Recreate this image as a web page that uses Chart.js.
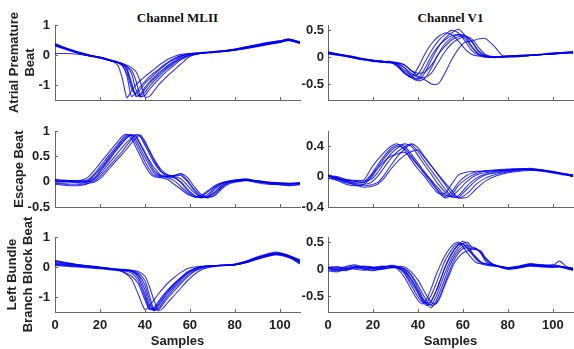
<!DOCTYPE html>
<html><head><meta charset="utf-8">
<script src="https://cdn.jsdelivr.net/npm/chart.js@4.4.1/dist/chart.umd.min.js"></script>
<style>
body{margin:0;width:574px;height:349px;background:#fff;position:relative;overflow:hidden}
canvas{position:absolute}
.t{position:absolute;top:18px;font:bold 13px "Liberation Serif","Times New Roman",serif;color:#111;transform:translate(-50%,-50%);white-space:nowrap}
</style></head><body>
<div class="t" style="left:177.5px">Channel MLII</div>
<div class="t" style="left:450.5px">Channel V1</div>
<canvas id="c0"></canvas><canvas id="c1"></canvas>
<canvas id="c2"></canvas><canvas id="c3"></canvas>
<canvas id="c4"></canvas><canvas id="c5"></canvas>
<script>
// ---------- data ----------
const X_TICKS = [0, 20, 40, 60, 80, 100];
const X_MAX = 109;

const ROW_TITLES = [['Atrial Premature', 'Beat'], 'Escape Beat', ['Left Bundle', 'Branch Block Beat']];
const COL_X_TITLE = 'Samples';

// Atrial premature beat, MLII
const APB_ML_X = [0,5,10,15,20,25,28,30,32,34,36,38,40,42,44,46,48,50,53,56,60,65,70,75,80,85,90,95,100,104,109];
const APB_ML_TICKS = [-1, 0, 1];
const APB_ML = [
 [0.38,0.22,0.08,-0.02,-0.08,-0.18,-0.35,-0.8,-1.42,-1.2,-1.0,-0.85,-0.72,-0.6,-0.48,-0.36,-0.25,-0.15,-0.05,0.02,0.05,0.07,0.1,0.12,0.16,0.22,0.3,0.36,0.42,0.5,0.42],
 [0.33,0.2,0.1,0.0,-0.1,-0.2,-0.27,-0.35,-0.7,-1.38,-1.25,-1.05,-0.88,-0.72,-0.6,-0.48,-0.36,-0.25,-0.12,-0.02,0.04,0.07,0.09,0.13,0.17,0.25,0.33,0.4,0.46,0.52,0.4],
 [0.3,0.18,0.07,-0.03,-0.1,-0.2,-0.25,-0.3,-0.45,-0.9,-1.38,-1.3,-1.08,-0.9,-0.75,-0.6,-0.48,-0.36,-0.2,-0.06,0.03,0.06,0.1,0.13,0.18,0.26,0.32,0.39,0.45,0.5,0.38],
 [0.05,0.05,0.03,-0.02,-0.08,-0.18,-0.24,-0.32,-0.5,-1.0,-1.35,-1.35,-1.15,-0.95,-0.8,-0.66,-0.52,-0.4,-0.24,-0.1,0.0,0.05,0.08,0.12,0.16,0.23,0.3,0.37,0.43,0.49,0.39],
 [0.36,0.22,0.1,0.0,-0.07,-0.17,-0.23,-0.3,-0.4,-0.6,-1.15,-1.4,-1.25,-1.05,-0.88,-0.72,-0.58,-0.44,-0.28,-0.12,0.0,0.06,0.1,0.14,0.2,0.27,0.34,0.41,0.47,0.53,0.43],
 [0.34,0.21,0.09,-0.01,-0.09,-0.19,-0.25,-0.3,-0.38,-0.5,-0.85,-1.38,-1.35,-1.15,-0.98,-0.82,-0.66,-0.52,-0.34,-0.16,-0.02,0.05,0.09,0.12,0.17,0.22,0.28,0.35,0.42,0.48,0.4],
 [0.32,0.2,0.08,-0.02,-0.1,-0.2,-0.24,-0.28,-0.34,-0.42,-0.55,-0.9,-1.4,-1.38,-1.2,-1.0,-0.85,-0.7,-0.5,-0.3,-0.05,0.06,0.1,0.13,0.18,0.25,0.31,0.38,0.44,0.5,0.42],
 [0.37,0.23,0.11,0.01,-0.08,-0.19,-0.26,-0.36,-0.6,-1.1,-1.3,-1.15,-0.95,-0.8,-0.66,-0.52,-0.4,-0.28,-0.14,-0.03,0.04,0.08,0.11,0.15,0.19,0.27,0.35,0.42,0.47,0.53,0.44]
];

// Atrial premature beat, V1
const APB_V1_X = [0,5,10,15,20,25,28,31,34,37,40,43,46,49,52,55,58,61,64,67,70,74,78,84,90,96,102,109];
const APB_V1_TICKS = [-0.5, 0, 0.5];
const APB_V1 = [
 [0.07,0.04,0.0,-0.04,-0.06,-0.08,-0.1,-0.18,-0.3,-0.38,-0.2,0.05,0.25,0.38,0.45,0.42,0.3,0.15,0.05,0.02,0.0,0.0,0.01,0.02,0.03,0.05,0.07,0.08],
 [0.09,0.05,0.01,-0.03,-0.07,-0.09,-0.1,-0.14,-0.25,-0.33,-0.32,-0.1,0.12,0.3,0.42,0.5,0.45,0.3,0.12,0.04,0.01,0.0,0.02,0.03,0.04,0.06,0.08,0.1],
 [0.06,0.03,0.0,-0.05,-0.07,-0.1,-0.09,-0.12,-0.2,-0.35,-0.42,-0.3,-0.05,0.18,0.35,0.45,0.52,0.4,0.2,0.06,0.02,0.0,0.01,0.02,0.04,0.05,0.06,0.09],
 [0.1,0.05,0.02,-0.03,-0.06,-0.08,-0.08,-0.1,-0.15,-0.25,-0.3,-0.28,-0.15,0.05,0.2,0.32,0.38,0.4,0.3,0.12,0.03,0.0,0.0,0.01,0.03,0.05,0.07,0.08],
 [0.08,0.04,0.0,-0.04,-0.08,-0.1,-0.11,-0.15,-0.28,-0.38,-0.44,-0.4,-0.2,0.05,0.25,0.36,0.42,0.4,0.28,0.1,0.02,-0.01,0.0,0.02,0.03,0.06,0.08,0.1],
 [0.07,0.05,0.01,-0.03,-0.06,-0.08,-0.1,-0.11,-0.14,-0.25,-0.35,-0.38,-0.3,-0.1,0.1,0.25,0.34,0.38,0.34,0.18,0.05,0.01,0.01,0.02,0.04,0.05,0.07,0.09],
 [0.08,0.04,0.0,-0.04,-0.07,-0.09,-0.1,-0.12,-0.2,-0.3,-0.38,-0.42,-0.5,-0.5,-0.3,-0.05,0.15,0.28,0.3,0.34,0.35,0.2,0.02,0.01,0.03,0.05,0.07,0.08],
 [0.09,0.06,0.02,-0.02,-0.06,-0.08,-0.09,-0.16,-0.3,-0.36,-0.4,-0.22,0.02,0.2,0.32,0.4,0.42,0.35,0.18,0.05,0.01,0.0,0.01,0.03,0.04,0.05,0.07,0.1]
];

// Escape beat, MLII
const ESC_ML_X = [0,4,8,12,15,18,21,24,27,30,32,34,36,38,40,42,44,47,50,53,56,59,62,65,68,71,74,77,80,85,90,95,100,105,109];
const ESC_ML_TICKS = [-0.5, 0, 0.5, 1];
const ESC_ML = [
 [0.02,0.0,0.01,0.03,0.1,0.25,0.42,0.58,0.74,0.9,0.93,0.85,0.68,0.5,0.32,0.18,0.1,0.08,0.05,-0.05,-0.15,-0.25,-0.3,-0.27,-0.18,-0.08,-0.02,0.0,0.02,0.04,0.0,-0.03,-0.05,-0.03,-0.04],
 [0.05,0.03,0.02,0.01,0.05,0.18,0.35,0.52,0.68,0.85,0.93,0.9,0.76,0.58,0.4,0.24,0.13,0.1,0.08,0.02,-0.1,-0.22,-0.3,-0.3,-0.2,-0.1,-0.03,0.01,0.03,0.05,0.01,-0.02,-0.04,-0.05,-0.03],
 [-0.05,-0.07,-0.08,-0.07,-0.03,0.08,0.25,0.42,0.6,0.76,0.86,0.92,0.88,0.72,0.55,0.38,0.22,0.12,0.1,0.08,0.0,-0.15,-0.27,-0.32,-0.28,-0.15,-0.05,0.0,0.02,0.03,-0.02,-0.05,-0.06,-0.08,-0.06],
 [0.0,0.01,-0.01,0.0,0.02,0.1,0.28,0.45,0.62,0.78,0.88,0.93,0.9,0.75,0.58,0.42,0.28,0.13,0.1,0.1,0.06,-0.08,-0.22,-0.3,-0.3,-0.2,-0.08,-0.01,0.02,0.04,0.0,-0.02,-0.03,-0.04,-0.02],
 [0.03,0.02,0.0,-0.01,0.0,0.03,0.15,0.3,0.45,0.6,0.72,0.83,0.93,0.88,0.72,0.55,0.38,0.2,0.12,0.12,0.15,0.02,-0.15,-0.28,-0.32,-0.25,-0.12,-0.03,0.0,0.03,0.02,-0.01,-0.03,-0.05,-0.04],
 [-0.03,-0.05,-0.06,-0.05,-0.03,0.0,0.1,0.25,0.4,0.55,0.65,0.76,0.86,0.92,0.8,0.62,0.45,0.25,0.14,0.12,0.16,0.08,-0.1,-0.25,-0.3,-0.28,-0.15,-0.05,-0.01,0.02,0.0,-0.04,-0.06,-0.07,-0.05],
 [0.01,0.0,0.02,0.01,0.03,0.15,0.3,0.48,0.65,0.82,0.9,0.92,0.82,0.65,0.48,0.32,0.18,0.11,0.1,0.08,-0.02,-0.18,-0.28,-0.31,-0.25,-0.12,-0.04,0.0,0.03,0.05,0.01,-0.01,-0.02,-0.03,-0.02],
 [-0.02,-0.03,-0.02,-0.03,0.0,0.06,0.2,0.36,0.52,0.68,0.78,0.86,0.92,0.9,0.76,0.6,0.42,0.22,0.12,0.11,0.12,0.0,-0.18,-0.3,-0.3,-0.22,-0.1,-0.02,0.01,0.03,0.01,-0.02,-0.04,-0.04,-0.03]
];

// Escape beat, V1
const ESC_V1_X = [0,4,8,12,16,19,22,25,28,31,34,37,40,43,46,49,52,55,58,62,66,70,75,80,85,90,95,100,105,109];
const ESC_V1_TICKS = [-0.4, 0, 0.4];
const ESC_V1 = [
 [0.02,-0.02,-0.05,-0.06,-0.04,0.1,0.22,0.32,0.4,0.43,0.35,0.22,0.1,0.0,-0.12,-0.22,-0.22,-0.1,0.02,0.06,0.07,0.07,0.08,0.09,0.1,0.09,0.07,0.05,0.03,0.0],
 [0.0,-0.03,-0.06,-0.08,-0.07,0.02,0.15,0.27,0.37,0.42,0.4,0.3,0.18,0.06,-0.06,-0.18,-0.26,-0.2,-0.08,0.02,0.06,0.08,0.09,0.1,0.1,0.09,0.08,0.05,0.02,0.01],
 [-0.02,-0.05,-0.1,-0.12,-0.1,-0.02,0.1,0.2,0.27,0.3,0.32,0.25,0.15,0.05,-0.05,-0.15,-0.24,-0.26,-0.18,-0.06,0.02,0.05,0.07,0.08,0.09,0.1,0.08,0.06,0.03,0.02],
 [0.01,0.0,-0.04,-0.05,-0.06,-0.04,0.05,0.18,0.3,0.38,0.43,0.4,0.28,0.15,0.03,-0.1,-0.2,-0.27,-0.25,-0.12,-0.02,0.03,0.06,0.08,0.1,0.1,0.09,0.06,0.04,0.02],
 [-0.01,-0.04,-0.08,-0.1,-0.12,-0.11,-0.08,0.02,0.15,0.27,0.36,0.43,0.38,0.26,0.14,0.02,-0.1,-0.22,-0.28,-0.22,-0.1,-0.02,0.03,0.06,0.08,0.09,0.08,0.06,0.03,0.01],
 [0.0,-0.02,-0.07,-0.11,-0.14,-0.13,-0.1,-0.02,0.1,0.2,0.28,0.33,0.35,0.25,0.14,0.03,-0.08,-0.18,-0.28,-0.27,-0.16,-0.06,0.01,0.05,0.07,0.08,0.08,0.06,0.03,0.0],
 [0.02,-0.01,-0.04,-0.06,-0.08,0.0,0.12,0.24,0.34,0.4,0.37,0.27,0.15,0.03,-0.08,-0.2,-0.28,-0.24,-0.12,-0.02,0.04,0.07,0.08,0.09,0.1,0.11,0.09,0.06,0.04,0.02],
 [0.01,-0.03,-0.06,-0.09,-0.1,-0.08,0.0,0.12,0.24,0.33,0.39,0.42,0.33,0.2,0.08,-0.04,-0.16,-0.26,-0.27,-0.16,-0.05,0.02,0.05,0.07,0.09,0.1,0.09,0.07,0.04,0.01]
];

// Left bundle branch block beat, MLII
const LBB_ML_X = [0,5,10,15,20,25,28,31,34,37,40,42,44,46,48,50,53,56,59,62,65,68,72,76,80,85,90,95,98,101,105,109];
const LBB_ML_TICKS = [-1, 0, 1];
const LBB_ML = [
 [0.22,0.15,0.08,0.03,-0.02,-0.07,-0.1,-0.2,-0.4,-0.9,-1.42,-1.3,-1.1,-0.9,-0.72,-0.55,-0.35,-0.18,-0.05,0.0,0.02,0.04,0.05,0.06,0.08,0.18,0.3,0.38,0.42,0.4,0.3,0.18],
 [0.15,0.1,0.06,0.02,-0.02,-0.06,-0.08,-0.1,-0.15,-0.35,-0.9,-1.35,-1.45,-1.25,-1.05,-0.85,-0.6,-0.38,-0.2,-0.08,0.0,0.03,0.05,0.06,0.08,0.18,0.32,0.42,0.47,0.45,0.35,0.2],
 [0.08,0.05,0.02,0.0,-0.04,-0.08,-0.1,-0.12,-0.14,-0.25,-0.6,-1.1,-1.45,-1.38,-1.18,-0.98,-0.72,-0.48,-0.28,-0.12,-0.03,0.02,0.04,0.06,0.08,0.15,0.28,0.4,0.45,0.44,0.32,0.15],
 [0.12,0.08,0.05,0.02,-0.02,-0.06,-0.08,-0.1,-0.11,-0.15,-0.3,-0.65,-1.1,-1.45,-1.38,-1.2,-0.95,-0.7,-0.45,-0.25,-0.1,-0.02,0.03,0.06,0.08,0.16,0.3,0.42,0.46,0.42,0.3,0.12],
 [0.18,0.12,0.08,0.04,0.0,-0.05,-0.1,-0.18,-0.3,-0.55,-1.1,-1.42,-1.35,-1.15,-0.95,-0.78,-0.55,-0.35,-0.18,-0.06,0.01,0.03,0.05,0.07,0.1,0.2,0.34,0.45,0.5,0.46,0.36,0.22],
 [0.1,0.06,0.03,0.0,-0.03,-0.07,-0.09,-0.1,-0.12,-0.2,-0.45,-0.95,-1.4,-1.42,-1.25,-1.05,-0.8,-0.55,-0.33,-0.15,-0.05,0.01,0.04,0.05,0.07,0.14,0.26,0.38,0.43,0.42,0.33,0.18],
 [0.2,0.13,0.07,0.03,-0.01,-0.05,-0.07,-0.08,-0.12,-0.3,-0.75,-1.25,-1.42,-1.3,-1.1,-0.9,-0.66,-0.42,-0.22,-0.08,0.0,0.03,0.05,0.07,0.09,0.17,0.3,0.4,0.44,0.42,0.34,0.25],
 [0.05,0.03,0.0,-0.03,-0.06,-0.1,-0.12,-0.14,-0.2,-0.45,-1.0,-1.38,-1.4,-1.2,-1.0,-0.8,-0.58,-0.36,-0.16,-0.05,0.01,0.03,0.04,0.05,0.07,0.15,0.27,0.36,0.4,0.38,0.28,0.1]
];

// Left bundle branch block beat, V1
const LBB_V1_X = [0,4,8,12,16,20,24,28,31,34,37,40,42,44,46,48,50,52,54,56,58,60,62,64,66,68,70,73,76,80,85,90,95,100,103,106,109];
const LBB_V1_TICKS = [-0.5, 0, 0.5];
const LBB_V1 = [
 [0.02,-0.02,0.03,0.06,0.02,0.0,0.04,0.06,0.0,-0.15,-0.38,-0.58,-0.65,-0.55,-0.35,-0.12,0.08,0.25,0.38,0.47,0.5,0.42,0.3,0.2,0.12,0.1,0.08,0.06,0.05,0.02,0.04,0.08,0.06,0.05,0.04,0.02,0.0],
 [0.0,0.03,0.0,0.02,0.05,0.03,0.05,0.04,0.02,-0.06,-0.25,-0.45,-0.6,-0.68,-0.6,-0.42,-0.2,0.02,0.2,0.35,0.46,0.52,0.45,0.32,0.2,0.12,0.1,0.07,0.05,0.03,0.05,0.09,0.07,0.06,0.05,0.03,0.01],
 [-0.03,-0.05,0.0,0.05,0.0,-0.02,0.02,0.05,0.04,0.0,-0.12,-0.35,-0.52,-0.66,-0.72,-0.6,-0.4,-0.18,0.05,0.22,0.35,0.42,0.45,0.4,0.38,0.3,0.15,0.08,0.05,0.0,0.03,0.08,0.05,0.07,0.15,0.05,0.0],
 [0.01,0.0,-0.03,0.03,0.04,0.02,0.0,0.03,0.05,0.04,-0.05,-0.2,-0.35,-0.5,-0.62,-0.65,-0.52,-0.3,-0.1,0.1,0.22,0.3,0.34,0.37,0.38,0.3,0.2,0.1,0.06,0.02,0.03,0.06,0.04,0.05,0.06,0.02,-0.02],
 [0.04,0.02,0.05,0.08,0.03,0.01,0.03,0.05,0.03,-0.08,-0.3,-0.52,-0.62,-0.62,-0.48,-0.28,-0.06,0.15,0.3,0.42,0.48,0.46,0.38,0.28,0.18,0.12,0.1,0.08,0.06,0.03,0.06,0.1,0.07,0.08,0.06,0.03,0.02],
 [-0.02,0.0,0.02,0.0,-0.02,0.03,0.06,0.04,0.02,-0.02,-0.18,-0.4,-0.56,-0.65,-0.66,-0.52,-0.3,-0.08,0.12,0.28,0.4,0.48,0.5,0.42,0.38,0.32,0.18,0.09,0.05,0.01,0.03,0.07,0.08,0.04,0.05,0.02,-0.01],
 [0.03,0.05,0.01,0.04,0.06,0.04,0.02,0.07,0.05,-0.03,-0.2,-0.42,-0.58,-0.64,-0.58,-0.42,-0.2,0.03,0.22,0.36,0.45,0.48,0.4,0.3,0.22,0.14,0.1,0.08,0.05,0.02,0.05,0.1,0.08,0.06,0.05,0.04,0.02],
 [0.0,-0.03,-0.01,0.02,0.0,-0.03,0.0,0.02,0.03,0.01,-0.1,-0.3,-0.45,-0.6,-0.68,-0.64,-0.48,-0.26,-0.04,0.16,0.3,0.38,0.4,0.38,0.36,0.34,0.22,0.1,0.04,0.0,0.02,0.06,0.05,0.03,0.04,0.01,-0.02]
];

// ---------- panels ----------
const PANEL_DATA = [
  {x: APB_ML_X, traces: APB_ML, ticks: APB_ML_TICKS, min: -1.5, max: 1},
  {x: APB_V1_X, traces: APB_V1, ticks: APB_V1_TICKS, min: -0.8, max: 0.6},
  {x: ESC_ML_X, traces: ESC_ML, ticks: ESC_ML_TICKS, min: -0.5, max: 1},
  {x: ESC_V1_X, traces: ESC_V1, ticks: ESC_V1_TICKS, min: -0.4, max: 0.6},
  {x: LBB_ML_X, traces: LBB_ML, ticks: LBB_ML_TICKS, min: -1.5, max: 1},
  {x: LBB_V1_X, traces: LBB_V1, ticks: LBB_V1_TICKS, min: -0.8, max: 0.6}
];

const ROWS = [
  {top: 0, height: 120, padTop: 25, xH: 20, titlePad: 7},
  {top: 110, height: 115, padTop: 21, xH: 18, titlePad: 12},
  {top: 212, height: 137, padTop: 25, xH: 37, titlePad: 5}
];
const COLS = [
  {left: 0, width: 302, yW: 55, padRight: 2},
  {left: 296, width: 278, yW: 32, padRight: 1}
];

const FONT = {family: '"Liberation Sans", Arial, sans-serif', size: 13, weight: 'bold'};
const TXT = '#222';
const AXIS = '#666';

const innerTicks = {
  id: 'innerTicks',
  afterDraw(chart, args, opts) {
    const ctx = chart.ctx, a = chart.chartArea;
    const xs = chart.scales.x, ys = chart.scales.y;
    const yt = opts.yTicks || [];
    ctx.save();
    ctx.strokeStyle = AXIS; ctx.lineWidth = 1;
    ctx.beginPath();
    X_TICKS.forEach(v => {
      const p = Math.round(xs.getPixelForValue(v)) + 0.5;
      ctx.moveTo(p, a.bottom); ctx.lineTo(p, a.bottom - 3);
    });
    yt.forEach(v => {
      const p = Math.round(ys.getPixelForValue(v)) + 0.5;
      ctx.moveTo(a.left, p); ctx.lineTo(a.left + 3, p);
    });
    ctx.stroke();
    ctx.restore();
  }
};

PANEL_DATA.forEach((pd, i) => {
  const r = Math.floor(i / 2), c = i % 2;
  const row = ROWS[r], col = COLS[c];
  const cv = document.getElementById('c' + i);
  cv.width = col.width; cv.height = row.height;
  cv.style.left = col.left + 'px'; cv.style.top = row.top + 'px';
  const last = r === 2;
  const datasets = pd.traces.map(t => ({
    data: t.map((y, k) => ({x: pd.x[k], y})),
    borderColor: 'rgba(0,0,240,0.8)',
    borderWidth: 1.1,
    pointRadius: 0,
    tension: 0.25,
    fill: false
  }));
  new Chart(cv, {
    type: 'line',
    data: {datasets},
    options: {
      responsive: false,
      animation: false,
      events: [],
      layout: {padding: {top: row.padTop, right: col.padRight, bottom: 0, left: 0}},
      plugins: {legend: {display: false}, tooltip: {enabled: false}, innerTicks: {yTicks: pd.ticks}},
      scales: {
        x: {
          type: 'linear', min: 0, max: X_MAX,
          afterBuildTicks: s => { s.ticks = X_TICKS.map(v => ({value: v})); },
          afterFit: s => { s.height = row.xH; },
          grid: {display: false, drawTicks: false},
          border: {display: true, color: AXIS, width: 1},
          ticks: {display: last, padding: 6, font: FONT, color: TXT, maxRotation: 0, autoSkip: false,
                  callback: v => String(v)},
          title: {display: last, text: COL_X_TITLE, font: FONT, color: TXT, padding: {top: 0, bottom: 0}}
        },
        y: {
          type: 'linear', min: pd.min, max: pd.max,
          afterBuildTicks: s => { s.ticks = pd.ticks.map(v => ({value: v})); },
          afterFit: s => { s.width = col.yW; },
          grid: {display: false, drawTicks: false},
          border: {display: true, color: AXIS, width: 1},
          ticks: {padding: c === 0 ? 5 : 4, font: FONT, color: TXT, autoSkip: false,
                  callback: v => String(v)},
          title: {display: c === 0, text: ROW_TITLES[r], font: FONT, color: TXT,
                  padding: {top: row.titlePad, bottom: 0}}
        }
      }
    },
    plugins: [innerTicks]
  });
});
</script>
</body></html>
